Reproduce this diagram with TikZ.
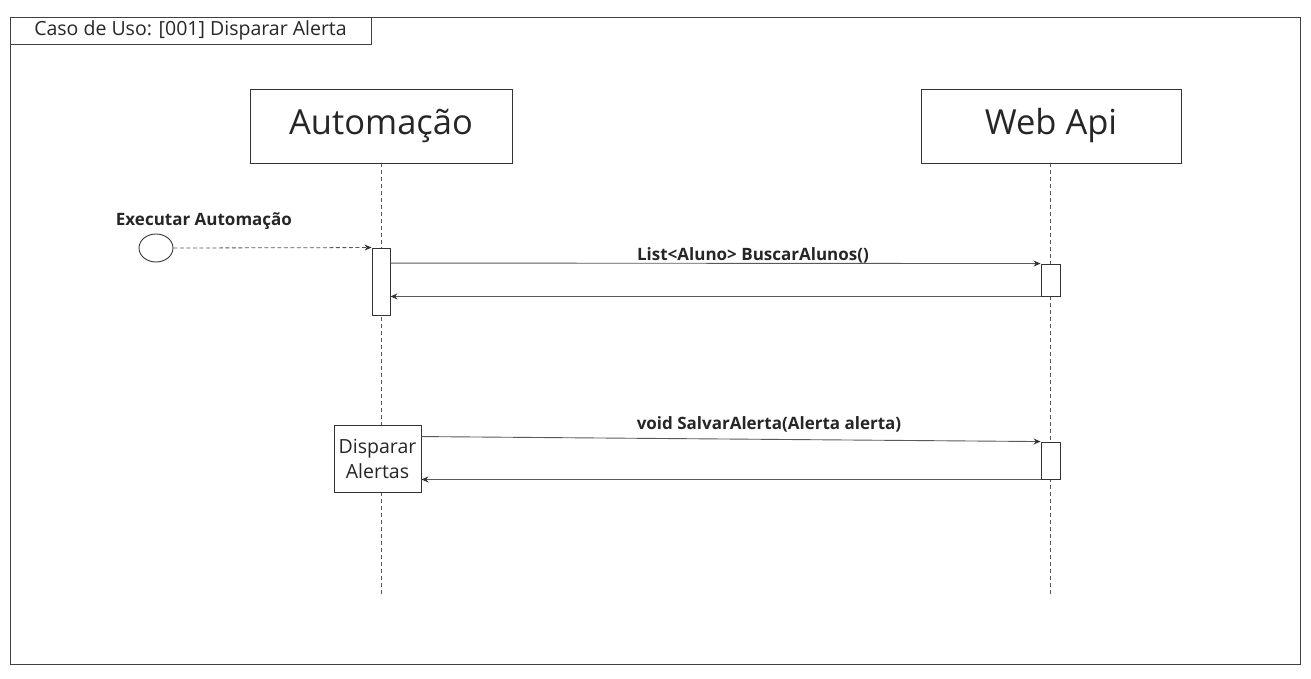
\documentclass[tikz,border=0pt]{standalone}
\usepackage{fontspec}
\setmainfont{Open Sans}
\usetikzlibrary{arrows.meta,shapes.geometric}
\begin{document}
\begin{tikzpicture}[x=1pt,y=-1pt,
  line/.style={draw=black!75, line width=0.9pt},
  lifebox/.style={draw=black!80, line width=0.9pt, fill=white},
  lifeline/.style={draw=black!65, line width=0.8pt, dash pattern=on 4pt off 3pt},
  msg/.style={draw=black!65, line width=0.9pt, -{Stealth[length=7pt,width=6pt,color=black!80,fill=black!80]}},
  dmsg/.style={draw=black!65, line width=0.8pt, dash pattern=on 4pt off 2.5pt, -{Stealth[length=7pt,width=6pt,color=black!80,fill=black!80]}},
  lbl/.style={font=\fontsize{17}{19}\selectfont\bfseries, text=black!85, inner sep=0pt},
]
\useasboundingbox (0,0) rectangle (1311,678);
% frame
\draw[line] (10,17) rectangle (1300,664);
\draw[line] (10,17) rectangle (371,44);
\node[inner sep=0pt, font=\fontsize{19.5}{21}\selectfont, text=black!85] (title) at (190.5,30.5) {Caso de Uso: [001] Disparar Alerta};
% lifelines
\coordinate (la) at (381,163);
\coordinate (laend) at (381,595);
\coordinate (lw) at (1050,163);
\coordinate (lwend) at (1050,595);
\draw[lifeline] (la) -- (laend);
\draw[lifeline] (lw) -- (lwend);
\node[lifebox, minimum width=262pt, minimum height=74pt, font=\fontsize{34.5}{38}\selectfont, text=black!85] (auto) at (381,126) {Automação};
\node[lifebox, minimum width=260pt, minimum height=74pt, font=\fontsize{34.5}{38}\selectfont, text=black!85] (web) at (1051,126) {Web Api};
% activations
\node[lifebox, minimum width=18pt, minimum height=67pt, inner sep=0pt] (act1) at (381,281.5) {};
\node[lifebox, minimum width=19pt, minimum height=32pt, inner sep=0pt] (wact1) at (1050.5,280) {};
\node[lifebox, minimum width=19pt, minimum height=37pt, inner sep=0pt] (wact2) at (1050.5,460.5) {};
\node[lifebox, minimum width=87pt, minimum height=67pt, inner sep=0pt, align=center, font=\fontsize{19.5}{25}\selectfont, text=black!85] (disp) at (377.5,458.5) {Disparar\\Alertas};
% start
\node[draw=black!80, line width=0.9pt, ellipse, minimum width=34pt, minimum height=28pt, inner sep=0pt] (start) at (156,248) {};
\node[lbl] (startl) at (204,221) {Executar Automação};
\draw[dmsg] (start.east) -- (act1.north west);
% message 1
\draw[msg] ([yshift=-15.5pt]act1.north east) -- (wact1.north west);
\node[lbl] (m1) at (753,255) {List<Aluno> BuscarAlunos()};
\draw[msg] (wact1.south west) -- (act1.east |- wact1.south);
% message 2
\draw[msg] ([yshift=-12pt]disp.north east) -- (wact2.north west);
\node[lbl] (m2) at (769,424) {void SalvarAlerta(Alerta alerta)};
\draw[msg] (wact2.south west) -- (disp.east |- wact2.south);
\end{tikzpicture}
\end{document}
